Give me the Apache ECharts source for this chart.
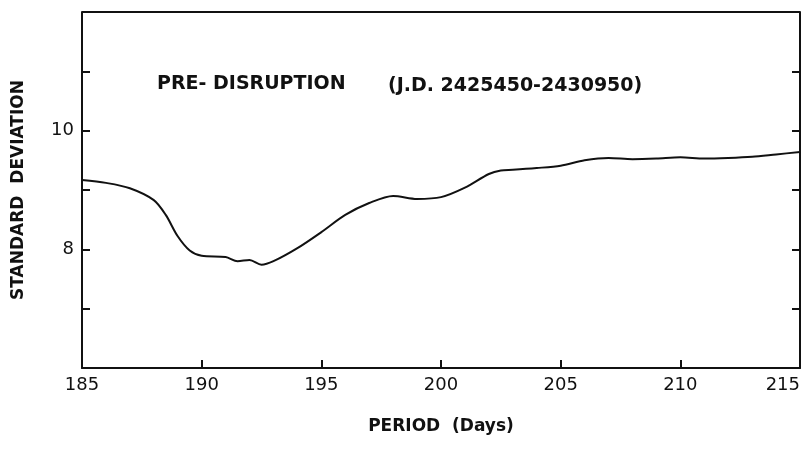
<html>
<head>
    <meta charset="utf-8">
    <title>Pre-disruption</title>
    <script src="https://cdn.jsdelivr.net/npm/echarts@6/dist/echarts.min.js"></script>
</head>
<body style="margin:0;background:#fff">
    <div id="main" style="width:808px;height:451px"></div>
    <script>
        // period (days) and standard deviation
        var period = [185, 186, 187, 188, 188.5, 189, 189.5, 190, 191, 191.5, 192, 192.5, 193, 194, 195, 196, 197, 198, 199, 200, 201, 202, 202.5, 203, 204, 205, 206, 207, 208, 209, 210, 211, 212, 213, 214, 215];
        var stdDev = [9.17, 9.12, 9.03, 8.83, 8.58, 8.22, 7.98, 7.89, 7.87, 7.8, 7.82, 7.74, 7.8, 8.02, 8.29, 8.58, 8.78, 8.9, 8.85, 8.88, 9.04, 9.27, 9.33, 9.34, 9.37, 9.41, 9.5, 9.54, 9.52, 9.53, 9.55, 9.53, 9.54, 9.56, 9.6, 9.64];
        var yLabels = [8, 10];

        var data = [];
        for (var i = 0; i < period.length; i++) {
            data.push([period[i], stdDev[i]]);
        }

        var font = 'DejaVu Sans';
        var line = {color: '#111', width: 2};
        var myChart = echarts.init(document.getElementById('main'));
        var option = {
            animation: false,
            grid: {left: 82, right: 8, top: 12, bottom: 83, containLabel: false, outerBoundsMode: 'none'},
            title: [{
                text: 'PRE- DISRUPTION',
                left: 152, top: 70,
                textStyle: {fontFamily: font, fontSize: 19, fontWeight: 'bold', color: '#111'}
            }, {
                text: '(J.D. 2425450-2430950)',
                left: 383, top: 72,
                textStyle: {fontFamily: font, fontSize: 19, fontWeight: 'bold', color: '#111'}
            }],
            xAxis: {
                type: 'value', min: 185, max: 215, interval: 5,
                name: 'PERIOD  (Days)', nameLocation: 'middle', nameGap: 50,
                nameTextStyle: {fontFamily: font, fontSize: 17, fontWeight: 'bold', color: '#111'},
                axisLine: {onZero: false, lineStyle: line},
                axisTick: {inside: true, length: 8, lineStyle: line},
                axisLabel: {fontFamily: font, fontSize: 18, color: '#111', margin: 8, alignMaxLabel: 'right'},
                splitLine: {show: false}
            },
            yAxis: [{
                type: 'value', min: 6, max: 12, interval: 1,
                name: 'STANDARD  DEVIATION', nameLocation: 'middle', nameGap: 55,
                nameTextStyle: {fontFamily: font, fontSize: 17, fontWeight: 'bold', color: '#111'},
                axisLine: {show: true, lineStyle: line},
                axisTick: {inside: true, length: 8, lineStyle: line},
                axisLabel: {
                    fontFamily: font, fontSize: 18, color: '#111',
                    formatter: function (v) { return yLabels.indexOf(v) >= 0 ? v : ''; }
                },
                splitLine: {show: false}
            }, {
                type: 'value', min: 6, max: 12, interval: 1, position: 'right',
                axisLine: {show: true, lineStyle: line},
                axisTick: {inside: true, length: 8, lineStyle: line},
                axisLabel: {show: false},
                splitLine: {show: false}
            }],
            graphic: [{
                type: 'line', shape: {x1: 82, y1: 12, x2: 800, y2: 12},
                style: {stroke: '#111', lineWidth: 2}, silent: true
            }],
            series: [{
                type: 'line', data: data, smooth: 0.3, symbol: 'none',
                lineStyle: line
            }]
        };
        myChart.setOption(option);
    </script>
</body>
</html>
